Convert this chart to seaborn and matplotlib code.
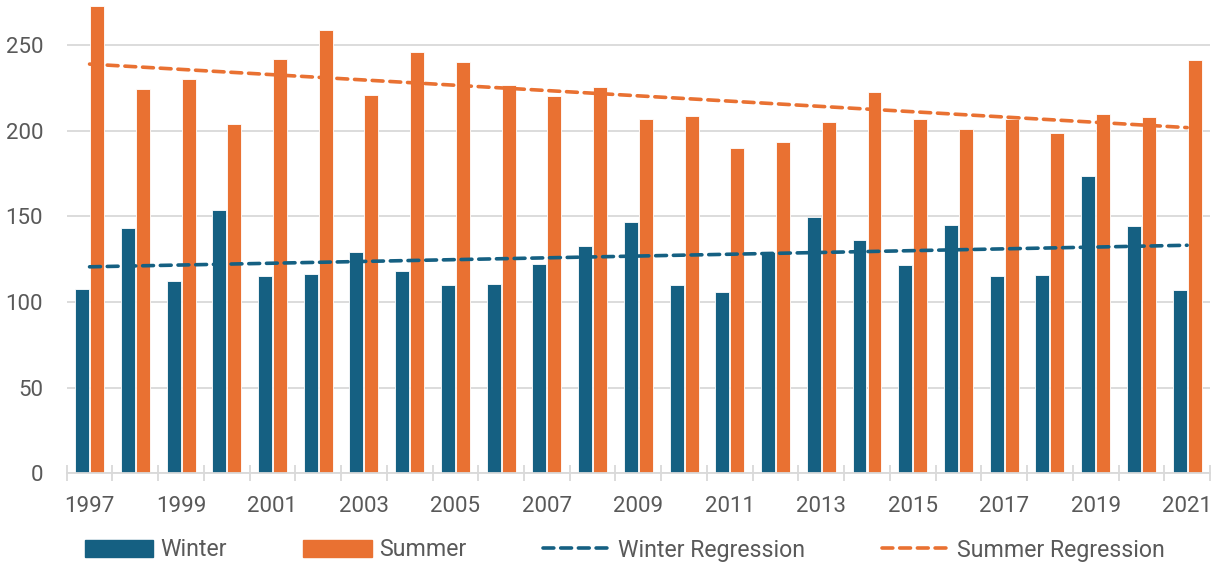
import numpy as np
import pandas as pd
import matplotlib
matplotlib.use("Agg")
import matplotlib.pyplot as plt
import seaborn as sns
from matplotlib.patches import Patch
from matplotlib.lines import Line2D

years = list(range(1997, 2022))
winter = [107.7, 143.3, 112.3, 153.4, 114.9, 116.2, 128.9, 118.2, 109.7, 110.4,
          122.3, 132.8, 146.8, 110.0, 105.6, 129.3, 149.5, 136.3, 121.5, 145.0,
          115.1, 115.5, 173.6, 144.2, 106.9]
summer = [272.6, 224.0, 230.2, 203.9, 241.7, 258.7, 220.8, 245.7, 239.7, 226.5,
          220.1, 225.3, 206.5, 208.2, 189.7, 193.4, 204.9, 222.4, 206.7, 201.0,
          206.5, 198.5, 209.8, 208.1, 241.2]

blue = "#156082"
orange = "#E97132"
grey_text = "#595959"
grid_col = "#D9D9D9"

sns.set_theme(style="white")
plt.rcParams['font.family'] = ['Roboto', 'DejaVu Sans']

df = pd.DataFrame({
    'year': [str(y) for y in years] * 2,
    'value': winter + summer,
    'season': ['Winter'] * len(years) + ['Summer'] * len(years),
})

fig = plt.figure(figsize=(12.15, 5.63), dpi=100)
ax = fig.add_axes([66.7 / 1215, 1 - 473.3 / 563, (1210 - 66.7) / 1215, (473.3 - 2) / 563])

sns.barplot(data=df, x='year', y='value', hue='season', hue_order=['Winter', 'Summer'],
            palette=[blue, orange], saturation=1, width=0.656, gap=0.07,
            edgecolor='white', linewidth=0.6, ax=ax, legend=False)

# trend lines fitted on category positions
pos = np.arange(len(years))
dash_kw = dict(lw=2.6, dashes=(3.0, 1.9), dash_capstyle='round')
sns.regplot(x=pos, y=np.array(winter), scatter=False, ci=None, color=blue, ax=ax,
            line_kws=dash_kw)
sns.regplot(x=pos, y=np.array(summer), scatter=False, ci=None, color=orange, ax=ax,
            line_kws=dash_kw)

ax.set_xlim(-0.5, len(years) - 0.5)
ax.set_ylim(0, 275)
ax.set_yticks([0, 50, 100, 150, 200, 250])
ax.yaxis.grid(True, color=grid_col, lw=1.3)
ax.set_axisbelow(True)
ax.set_xlabel('')
ax.set_ylabel('')

ax.set_xticks(pos[::2])
ax.set_xticklabels([str(y) for y in years[::2]])
ax.set_xticks(np.arange(-0.5, len(years)), minor=True)
ax.tick_params(axis='x', which='major', length=0, pad=16, labelsize=16, labelcolor=grey_text)
ax.tick_params(axis='x', which='minor', bottom=True, direction='inout', length=11,
               width=1.3, color=grid_col)
ax.tick_params(axis='y', length=0, pad=17, labelsize=16, labelcolor=grey_text)

for s in ['top', 'right', 'left']:
    ax.spines[s].set_visible(False)
ax.spines['bottom'].set_color(grid_col)
ax.spines['bottom'].set_linewidth(1.3)

handles = [
    Patch(facecolor=blue, edgecolor=blue),
    Patch(facecolor=orange, edgecolor=orange),
    Line2D([], [], color=blue, **dash_kw),
    Line2D([], [], color=orange, **dash_kw),
]
labels = ['Winter', 'Summer', 'Winter Regression', 'Summer Regression']
fig.legend(handles, labels, loc='center left', bbox_to_anchor=(85 / 1215, 13 / 563),
           ncol=4, frameon=False, fontsize=16.7, labelcolor=grey_text,
           handlelength=2.95, handleheight=0.7, handletextpad=0.3,
           columnspacing=3.3, borderpad=0, borderaxespad=0)

fig.savefig('out.png', dpi=100)
